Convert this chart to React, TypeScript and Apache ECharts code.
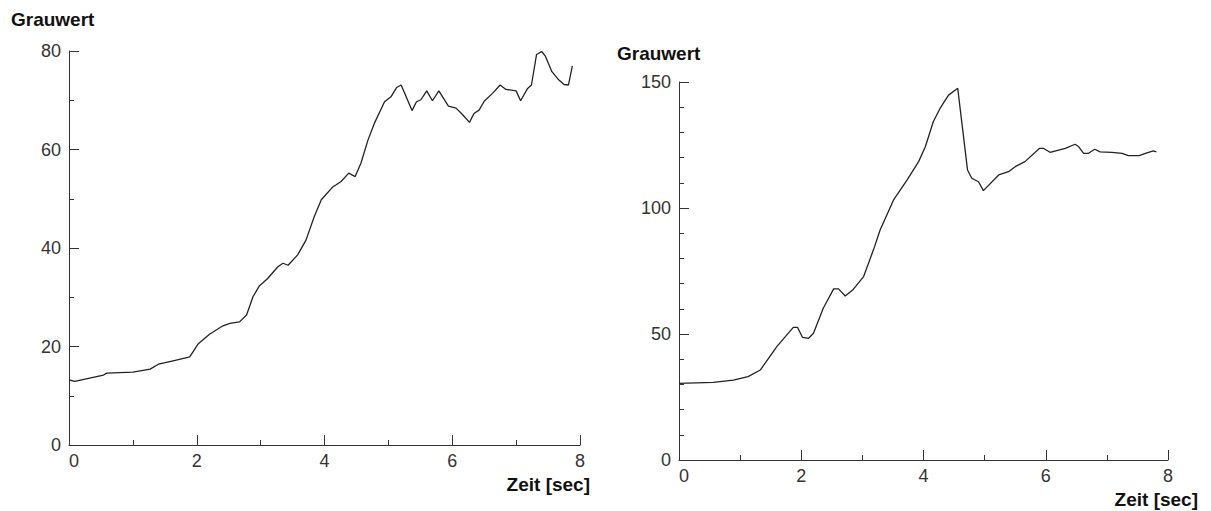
import React, { useEffect, useRef } from "react";
import * as echarts from "echarts";

// Left chart data (Zeit [sec], Grauwert)
const leftTime = [0, 0.09, 0.54, 0.59, 1.0, 1.27, 1.4, 1.63, 1.86, 1.89, 2.02, 2.2, 2.41, 2.52, 2.67, 2.78, 2.88, 2.98, 3.11, 3.27, 3.35, 3.43, 3.58, 3.71, 3.84, 3.95, 4.13, 4.26, 4.38, 4.48, 4.57, 4.68, 4.78, 4.94, 5.04, 5.13, 5.2, 5.37, 5.44, 5.51, 5.6, 5.69, 5.79, 5.94, 6.06, 6.16, 6.27, 6.34, 6.42, 6.5, 6.63, 6.75, 6.84, 7.0, 7.07, 7.18, 7.24, 7.32, 7.4, 7.46, 7.56, 7.67, 7.75, 7.82, 7.88];
const leftValue = [13.2, 12.9, 14.2, 14.6, 14.8, 15.4, 16.4, 17.1, 17.8, 17.9, 20.5, 22.5, 24.2, 24.7, 25.0, 26.4, 30.1, 32.3, 33.8, 36.2, 36.9, 36.5, 38.6, 41.6, 46.4, 49.8, 52.4, 53.5, 55.2, 54.5, 57.2, 61.9, 65.3, 69.7, 70.7, 72.6, 73.1, 67.9, 69.7, 70.1, 71.9, 69.9, 71.9, 68.8, 68.4, 67.1, 65.5, 67.3, 68.0, 69.8, 71.4, 73.1, 72.2, 71.9, 69.9, 72.4, 73.1, 79.3, 79.9, 78.9, 75.8, 74.1, 73.2, 73.1, 77.0];

// Right chart data
const rightTime = [0, 0.56, 0.89, 1.13, 1.33, 1.6, 1.87, 1.94, 2.02, 2.12, 2.2, 2.36, 2.53, 2.61, 2.72, 2.85, 3.02, 3.18, 3.29, 3.51, 3.73, 3.92, 4.03, 4.16, 4.27, 4.41, 4.56, 4.72, 4.79, 4.9, 4.98, 5.23, 5.39, 5.5, 5.66, 5.9, 5.96, 6.07, 6.32, 6.48, 6.54, 6.62, 6.7, 6.8, 6.89, 7.08, 7.25, 7.35, 7.53, 7.63, 7.76, 7.81];
const rightValue = [30.4, 30.8, 31.7, 33.1, 35.7, 45.0, 52.6, 52.6, 48.7, 48.3, 50.3, 60.2, 67.9, 67.9, 65.1, 67.7, 72.8, 83.3, 91.3, 103.2, 111.1, 118.4, 124.3, 134.2, 139.5, 144.8, 147.5, 115.1, 111.8, 110.4, 106.9, 113.1, 114.4, 116.4, 118.4, 123.7, 123.7, 122.1, 123.7, 125.3, 124.3, 121.7, 121.7, 123.3, 122.3, 122.1, 121.7, 120.8, 120.8, 121.7, 122.7, 122.3];

const xTicks = { min: 0, max: 8, interval: 2 };
const leftY = { min: 0, max: 80, interval: 20, minorSplit: 2 };
const rightY = { min: 0, max: 150, interval: 50, minorSplit: 5 };

const axisName = "Grauwert";
const timeName = "Zeit [sec]";

const axisColor = "#333";
const labelStyle = {
  fontFamily: "Liberation Sans, Arial, sans-serif",
  fontSize: 18,
  color: "#333",
};
const nameFont = "bold 19px 'Liberation Sans', Arial, sans-serif";

function makeX(gridIndex: number) {
  return {
    type: "value",
    gridIndex,
    min: xTicks.min,
    max: xTicks.max,
    interval: xTicks.interval,
    axisLine: { show: true, onZero: false, lineStyle: { color: axisColor, width: 1 } },
    axisTick: { show: true, inside: true, length: 10, lineStyle: { color: axisColor } },
    minorTick: { show: true, splitNumber: 2, length: 5, lineStyle: { color: axisColor } },
    splitLine: { show: false },
    axisLabel: { ...labelStyle, margin: 7, alignMinLabel: "left" },
  };
}

function makeY(gridIndex: number, cfg: typeof leftY) {
  return {
    type: "value",
    gridIndex,
    min: cfg.min,
    max: cfg.max,
    interval: cfg.interval,
    axisLine: { show: true, onZero: false, lineStyle: { color: axisColor, width: 1 } },
    axisTick: { show: true, inside: true, length: 10, lineStyle: { color: axisColor } },
    minorTick: { show: true, splitNumber: cfg.minorSplit, length: 5, lineStyle: { color: axisColor } },
    splitLine: { show: false },
    axisLabel: { ...labelStyle, margin: 8 },
  };
}

export default function App() {
  const ref = useRef<HTMLDivElement>(null);
  useEffect(() => {
    if (!ref.current) return;
    const chart = echarts.init(ref.current, undefined, { renderer: "svg" });
    const option = {
      animation: false,
      backgroundColor: "#fff",
      grid: [
        { left: 69, top: 51, width: 511, height: 394 },
        { left: 679, top: 82, width: 489, height: 378 },
      ],
      xAxis: [makeX(0), makeX(1)],
      yAxis: [makeY(0, leftY), makeY(1, rightY)],
      series: [
        {
          type: "line",
          xAxisIndex: 0,
          yAxisIndex: 0,
          showSymbol: false,
          data: leftTime.map((t, i) => [t, leftValue[i]]),
          lineStyle: { color: "#222", width: 1.3 },
        },
        {
          type: "line",
          xAxisIndex: 1,
          yAxisIndex: 1,
          showSymbol: false,
          data: rightTime.map((t, i) => [t, rightValue[i]]),
          lineStyle: { color: "#222", width: 1.3 },
        },
      ],
      graphic: [
        { type: "text", x: 11, y: 19.5, style: { text: axisName, font: nameFont, fill: "#111", textAlign: "left", textVerticalAlign: "middle" } },
        { type: "text", x: 590, y: 484.5, style: { text: timeName, font: nameFont, fill: "#111", textAlign: "right", textVerticalAlign: "middle" } },
        { type: "text", x: 617, y: 53.5, style: { text: axisName, font: nameFont, fill: "#111", textAlign: "left", textVerticalAlign: "middle" } },
        { type: "text", x: 1198, y: 499.5, style: { text: timeName, font: nameFont, fill: "#111", textAlign: "right", textVerticalAlign: "middle" } },
      ],
    };
    chart.setOption(option as any);
    return () => chart.dispose();
  }, []);
  return (
    <div
      ref={ref}
      style={{ position: "fixed", left: 0, top: 0, width: 1211, height: 511, background: "#fff" }}
    />
  );
}
